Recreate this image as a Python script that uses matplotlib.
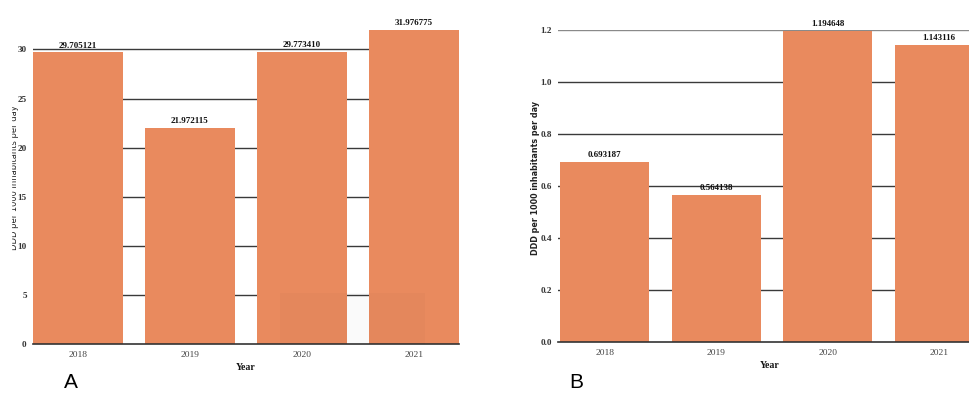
import matplotlib.pyplot as plt
from matplotlib.patches import Rectangle

# données
annees = ["2018", "2019", "2020", "2021"]
ddd_a = [29.705121, 21.972115, 29.773410, 31.976775]
ddd_b = [0.693187, 0.564138, 1.194648, 1.143116]
labels_a = ["29.705121", "21.972115", "29.773410", "31.976775"]
labels_b = ["0.693187", "0.564138", "1.194648", "1.143116"]
ticks_a = [0, 5, 10, 15, 20, 25, 30]
ticks_b = [0.0, 0.2, 0.4, 0.6, 0.8, 1.0, 1.2]

couleur = "#E98A5E"
serif = "Liberation Serif"

W, H = 970, 394
fig = plt.figure(figsize=(W / 100, H / 100), dpi=100)


def px(left, top, right, bottom):
    # conversion pixels -> fraction de la figure
    return [left / W, 1 - bottom / H, (right - left) / W, (bottom - top) / H]


def panneau(ax, valeurs, textes, ticks, fmt, ymax, xlim):
    x = range(len(valeurs))
    ax.bar(x, valeurs, width=0.8, color=couleur, zorder=2)
    ax.set_xlim(*xlim)
    ax.set_ylim(0, ymax)
    ax.set_yticks(ticks)
    ax.set_yticklabels([fmt.format(t) for t in ticks], family=serif,
                       fontsize=6.6, fontweight="bold", color="#333333")
    ax.set_xticks(list(x))
    ax.set_xticklabels(annees, family=serif, fontsize=6.8, color="#444444")
    ax.tick_params(length=0, pad=4.5)
    ax.tick_params(axis="x", pad=5)
    for t in ticks[1:]:
        ax.axhline(t, color="#3a3a3a", lw=1, zorder=1)
    for s in ["top", "right", "left"]:
        ax.spines[s].set_visible(False)
    ax.spines["bottom"].set_color("#333333")
    ax.spines["bottom"].set_linewidth(1.2)
    ax.spines["bottom"].set_zorder(3)
    for i, (v, t) in enumerate(zip(valeurs, textes)):
        ax.annotate(t, (i, v), xytext=(0, 2), textcoords="offset points",
                    ha="center", va="bottom", family=serif, fontsize=6.5,
                    fontweight="bold", color="#111111", annotation_clip=False)


# --- Panneau A ---
ax_a = fig.add_axes(px(33, 29.8, 459, 344))
panneau(ax_a, ddd_a, labels_a, ticks_a, "{:d}", 32, (-0.4, 3.4))
ax_a.add_patch(Rectangle((1.8, 0), 1.3, 5.2, color="#000000", alpha=0.02,
                         zorder=4, lw=0))

# --- Panneau B ---
ax_b = fig.add_axes(px(558, 29.7, 986, 342))
panneau(ax_b, ddd_b, labels_b, ticks_b, "{:.1f}", 1.2, (-0.42, 3.42))
ax_b.lines[-1].set_color("#8a8a8a")  # ligne 1.2 plus claire

# titres des axes
fig.text(14.5 / W, 1 - 178 / H, "DDD per 1000 inhabitants per day",
         rotation=90, ha="center", va="center", fontsize=6.0,
         color="#222222", family="DejaVu Sans")
fig.patches.append(Rectangle((0, 0), 11.5 / W, 1, transform=fig.transFigure,
                             color="white", zorder=5))
fig.text(536 / W, 1 - 178 / H, "DDD per 1000 inhabitants per day",
         rotation=90, ha="center", va="center", fontsize=5.8,
         color="#222222", family="DejaVu Sans", fontweight="bold")
fig.text(246 / W, 1 - 368 / H, "Year", ha="center", va="center",
         family=serif, fontsize=7, fontweight="bold", color="#111111")
fig.text(770 / W, 1 - 366 / H, "Year", ha="center", va="center",
         family=serif, fontsize=7, fontweight="bold", color="#111111")

# lettres des panneaux
fig.text(71 / W, 1 - 383 / H, "A", ha="center", va="center",
         family="Liberation Sans", fontsize=15)
fig.text(576 / W, 1 - 383 / H, "B", ha="center", va="center",
         family="Liberation Sans", fontsize=15)

fig.savefig("out.png", dpi=100)
